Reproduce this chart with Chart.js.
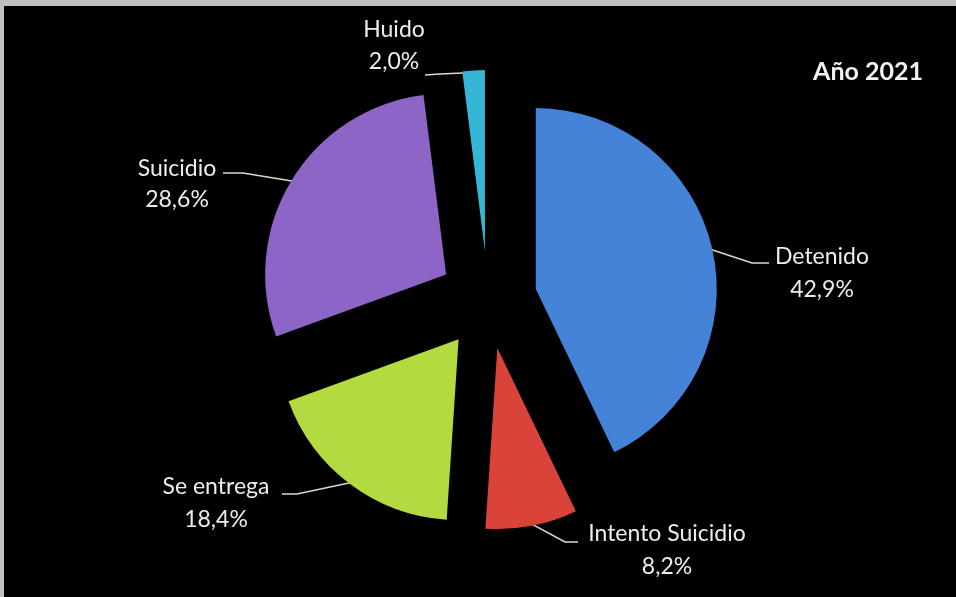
<!DOCTYPE html>
<html>
<head>
<meta charset="utf-8">
<script src="https://cdn.jsdelivr.net/npm/chart.js@4.4.1/dist/chart.umd.min.js"></script>
<style>
  html, body { margin: 0; padding: 0; background: #c0c0c0; }
  #wrap { width: 956px; height: 597px; position: relative; }
  canvas { display: block; }
</style>
</head>
<body>
<div id="wrap"><canvas id="c" width="956" height="597"></canvas></div>
<script>
// ---- data ----
const categories = ['Detenido', 'Intento Suicidio', 'Se entrega', 'Suicidio', 'Huido'];
const values = [42.9, 8.2, 18.4, 28.6, 2.0];
const valueLabels = ['42,9%', '8,2%', '18,4%', '28,6%', '2,0%'];
const titleText = 'Año 2021';

// ---- styles ----
const sliceColors = ['#4483d8', '#d9433a', '#b4da42', '#8c65c7', '#36b6d7'];
const explode = 49;
// label layout: text centre (x), name line centre y, value line centre y, elbow point, end of horizontal part
const labelLayout = [
  { x: 822, y1: 257, y2: 290, elbow: [752, 263], end: [769, 263] },
  { x: 667, y1: 534, y2: 567, elbow: [565, 542], end: [578, 542] },
  { x: 216, y1: 487, y2: 520, elbow: [297, 494], end: [282, 494] },
  { x: 177, y1: 169, y2: 200, elbow: [243, 173], end: [223, 173] },
  { x: 394, y1: 30, y2: 62, elbow: [440, 74], end: [425, 75] }
];
const FONT = 'Lato, "Open Sans", sans-serif';

const bgPlugin = {
  id: 'bg',
  beforeDraw(chart) {
    const ctx = chart.ctx;
    ctx.save();
    ctx.fillStyle = '#c0c0c0';
    ctx.fillRect(0, 0, chart.width, chart.height);
    ctx.fillStyle = '#000000';
    ctx.fillRect(4, 6, chart.width - 4, chart.height - 6);
    ctx.restore();
  }
};

const explodePlugin = {
  id: 'explodeSlices',
  afterDatasetUpdate(chart, args) {
    args.meta.data.forEach(arc => {
      if (arc._baseX === undefined) { arc._baseX = arc.x; arc._baseY = arc.y; }
      const mid = (arc.startAngle + arc.endAngle) / 2;
      arc.x = arc._baseX + Math.cos(mid) * explode;
      arc.y = arc._baseY + Math.sin(mid) * explode;
    });
  }
};

const labelPlugin = {
  id: 'sliceLabels',
  beforeDatasetsDraw(chart) {
    const ctx = chart.ctx;
    const meta = chart.getDatasetMeta(0);
    ctx.save();
    meta.data.forEach((arc, i) => {
      const L = labelLayout[i];
      const mid = (arc.startAngle + arc.endAngle) / 2;
      const ax = arc.x + Math.cos(mid) * (arc.outerRadius - 2);
      const ay = arc.y + Math.sin(mid) * (arc.outerRadius - 2);
      ctx.strokeStyle = '#d8d8d8';
      ctx.lineWidth = 1.6;
      ctx.beginPath();
      ctx.moveTo(ax, ay);
      ctx.lineTo(L.elbow[0], L.elbow[1]);
      ctx.lineTo(L.end[0], L.end[1]);
      ctx.stroke();
    });
    ctx.restore();
  },
  afterDatasetsDraw(chart) {
    const ctx = chart.ctx;
    ctx.save();
    labelLayout.forEach((L, i) => {
      ctx.fillStyle = '#ececec';
      ctx.font = '23px ' + FONT;
      ctx.textAlign = 'center';
      ctx.textBaseline = 'middle';
      ctx.fillText(categories[i], L.x, L.y1);
      ctx.fillText(valueLabels[i], L.x, L.y2);
    });
    ctx.font = 'bold 25px ' + FONT;
    ctx.fillStyle = '#f2f2f2';
    ctx.textAlign = 'center';
    ctx.textBaseline = 'middle';
    ctx.fillText(titleText, 868, 72);
    ctx.restore();
  }
};

new Chart(document.getElementById('c'), {
  type: 'pie',
  data: {
    labels: categories,
    datasets: [{
      data: values,
      backgroundColor: sliceColors,
      borderWidth: 0,
      hoverOffset: 0
    }]
  },
  options: {
    responsive: false,
    animation: false,
    events: [],
    radius: 181,
    layout: { padding: { left: 288, right: 268, top: 100, bottom: 97 } },
    plugins: { legend: { display: false }, tooltip: { enabled: false }, title: { display: false } }
  },
  plugins: [bgPlugin, explodePlugin, labelPlugin]
});
</script>
</body>
</html>
